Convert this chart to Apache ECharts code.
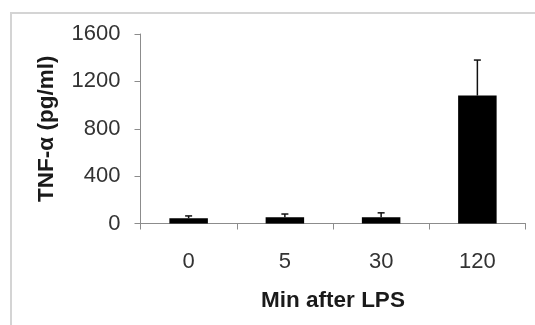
<!DOCTYPE html>
<html>
<head>
<meta charset="utf-8">
<script src="https://cdn.jsdelivr.net/npm/echarts@6/dist/echarts.min.js"></script>
<style>
html,body{margin:0;padding:0;background:#fff;}
#chart{width:535px;height:325px;}
</style>
</head>
<body>
<div id="chart"></div>
<script>
const categories = ['0', '5', '30', '120'];
const means = [44, 52, 52, 1080];
const errors = [20, 28, 38, 300];
const yTicks = [0, 400, 800, 1200, 1600];

const FONT = '"Liberation Sans", Arial, sans-serif';
const chart = echarts.init(document.getElementById('chart'), null, {renderer: 'canvas'});

const errData = categories.map((c, i) => [i, means[i], means[i] + errors[i]]);

chart.setOption({
  animation: false,
  backgroundColor: '#fff',
  graphic: [{
    type: 'rect',
    shape: {x: 11, y: 13, width: 600, height: 400},
    style: {fill: 'none', stroke: '#d4d4d4', lineWidth: 2},
    silent: true
  }],
  grid: {left: 140.5, right: 9.5, top: 34, bottom: 101.5, containLabel: false},
  xAxis: {
    type: 'category',
    data: categories,
    name: 'Min after LPS',
    nameLocation: 'middle',
    nameGap: 66,
    nameTextStyle: {fontFamily: FONT, fontSize: 22.5, fontWeight: 'bold', color: '#1a1a1a'},
    axisLine: {show: true, lineStyle: {color: '#8c8c8c', width: 1}},
    axisTick: {show: true, alignWithLabel: false, length: 6, lineStyle: {color: '#8c8c8c'}},
    axisLabel: {fontFamily: FONT, fontSize: 22, color: '#333', margin: 27},
    splitLine: {show: false}
  },
  yAxis: {
    type: 'value',
    min: yTicks[0],
    max: yTicks[yTicks.length - 1],
    interval: yTicks[1] - yTicks[0],
    name: 'TNF-α (pg/ml)',
    nameLocation: 'middle',
    nameGap: 82,
    nameRotate: 90,
    nameTextStyle: {fontFamily: FONT, fontSize: 22.5, fontWeight: 'bold', color: '#1a1a1a'},
    axisLine: {show: true, lineStyle: {color: '#8c8c8c', width: 1}},
    axisTick: {show: true, inside: false, length: 6, lineStyle: {color: '#8c8c8c'}},
    axisLabel: {fontFamily: FONT, fontSize: 22, color: '#333', margin: 20, formatter: v => String(v)},
    splitLine: {show: false}
  },
  series: [{
    type: 'bar',
    data: means,
    barWidth: '40%',
    itemStyle: {color: '#000'},
    z: 2
  }, {
    type: 'custom',
    data: errData,
    z: 3,
    renderItem: function (params, api) {
      const x = api.value(0);
      const base = api.coord([x, api.value(1)]);
      const top = api.coord([x, api.value(2)]);
      const half = 3.5;
      return {
        type: 'group',
        children: [{
          type: 'line',
          shape: {x1: base[0], y1: base[1], x2: top[0], y2: top[1]},
          style: {stroke: '#111', lineWidth: 1.5}
        }, {
          type: 'line',
          shape: {x1: top[0] - half, y1: top[1], x2: top[0] + half, y2: top[1]},
          style: {stroke: '#111', lineWidth: 1.5}
        }]
      };
    }
  }]
});
</script>
</body>
</html>
